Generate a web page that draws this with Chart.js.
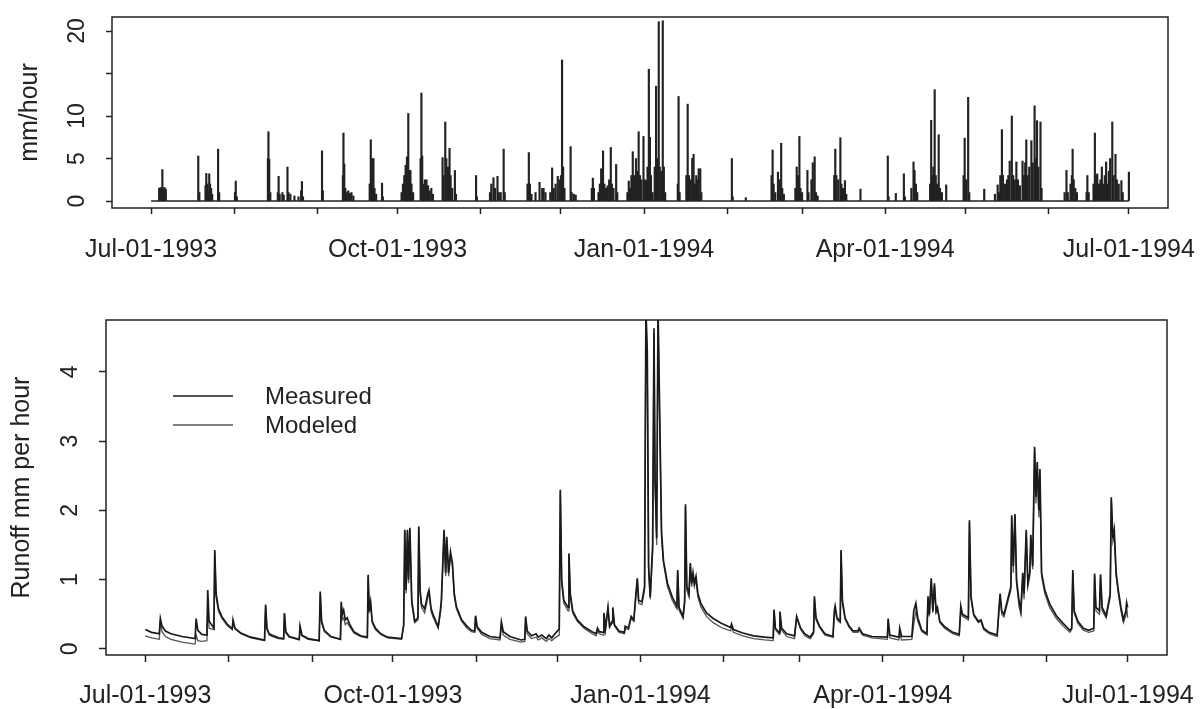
<!DOCTYPE html>
<html>
<head>
<meta charset="utf-8">
<script src="https://cdn.jsdelivr.net/npm/chart.js@4.4.0/dist/chart.umd.min.js"></script>
<style>
  body { margin: 0; background: #fff; }
  canvas { position: absolute; left: 0; }
  #rain { top: 0; }
  #flow { top: 270px; }
</style>
</head>
<body>
<canvas id="rain" width="1200" height="270"></canvas>
<canvas id="flow" width="1200" height="439"></canvas>
<script>
// days counted from Jul-01-1993
const monthDays = [0, 31, 62, 92, 123, 153, 184, 215, 243, 274, 304, 335, 365]
const labelDays = [0, 92, 184, 274, 365]
const dateLabels = ['Jul-01-1993', 'Oct-01-1993', 'Jan-01-1994', 'Apr-01-1994', 'Jul-01-1994']
const recordStart = 0
const recordEnd = 365

const rainTicks = [0, 5, 10, 15, 20]
const rainTickLabels = ['0', '5', '10', '', '20']
const flowTicks = [0, 1, 2, 3, 4]

// rainfall spikes, mm/hour
const rainDay = [
  3.0, 3.5, 4.0, 4.2, 4.6, 5.0, 5.5, 17.6, 18.0, 20.3, 20.6, 21.0, 21.3, 21.7, 22.0, 22.4, 22.8, 25.0, 25.4,
  31.3, 31.6, 32.0, 43.6, 43.8, 44.1, 44.5, 47.3, 47.6, 48.0, 49.0, 49.5, 50.9, 51.3, 52.0, 53.5, 55.0, 56.0, 56.3, 56.7,
  63.8, 64.1, 71.6, 71.8, 72.1, 72.5, 73.0, 73.6, 74.2, 74.8, 75.5, 81.6, 82.0, 82.5, 83.0, 83.4, 84.0, 86.2, 86.5,
  93.5, 94.0, 94.5, 95.0, 95.5, 96.0, 96.4, 96.8, 97.2, 97.8, 100.6, 100.9, 101.2, 101.6, 102.2, 102.8, 103.4, 104.0, 104.6, 105.2,
  108.8, 109.2, 109.8, 110.2, 110.8, 111.4, 111.8, 112.4, 113.4, 113.8, 121.3, 121.6, 126.5, 127.0, 127.8, 128.4, 129.3, 129.8, 130.5, 131.6, 132.0,
  140.5, 141.0, 141.4, 142.0, 143.5, 145.0, 146.0, 146.5, 147.2, 149.0, 149.7, 150.3, 151.0, 151.8, 152.5, 153.0, 153.4, 153.8, 154.3, 156.6, 157.0, 157.8, 158.5,
  164.5, 164.9, 165.3, 167.0, 167.5, 168.0, 168.7, 169.2, 169.8, 170.4, 171.0, 171.6, 172.0, 172.6, 173.6, 174.0,
  177.8, 178.3, 178.8, 179.3, 179.8, 180.3, 181.0, 181.5, 182.0, 182.5, 183.0, 183.8, 184.3, 184.8, 185.3, 185.8, 186.2, 186.6, 187.2,
  188.0, 188.5, 188.9, 189.5, 189.9, 190.5, 191.0, 191.4, 191.9, 196.6, 196.9, 197.3,
  199.8, 200.3, 200.8, 201.4, 202.0, 202.5, 203.0, 203.5, 204.0, 204.4, 205.0, 205.4, 216.8, 217.1, 222.0,
  231.6, 232.0, 232.4, 233.0, 234.0, 234.7, 235.2, 235.6, 236.2, 240.5, 241.0, 241.5, 242.0, 242.4, 243.0, 245.0, 245.4, 246.5, 247.0, 247.7, 248.2, 248.8,
  255.0, 255.4, 255.8, 256.5, 257.3, 257.7, 258.3, 259.0, 259.5, 264.8, 275.0, 275.3, 278.0, 281.0, 281.4, 283.8, 284.6, 285.0, 285.5, 286.0,
  290.8, 291.2, 291.7, 292.0, 292.5, 292.9, 293.4, 294.0, 294.5, 295.2, 296.8, 303.3, 303.7, 304.2, 305.0, 305.4, 311.0, 315.0, 316.0, 316.5,
  317.0, 317.6, 318.0, 318.8, 319.5, 320.0, 320.5, 321.3, 321.8, 322.4, 323.0, 323.6, 324.3, 325.3, 325.8, 326.3, 326.7, 327.2, 327.8, 328.6, 329.1, 329.8, 330.2, 330.7, 331.2, 332.0, 332.4,
  341.0, 341.7, 342.2, 343.2, 343.7, 344.0, 344.4, 345.0, 345.6, 349.2, 349.5, 350.0,
  351.8, 352.3, 352.7, 353.2, 353.8, 354.4, 354.9, 355.4, 356.0, 356.5, 357.0, 357.5, 358.0, 358.8, 359.3, 360.0, 360.5, 361.2, 362.2, 362.7, 365.0
]
const rainMm = [
  1.5, 1.6, 1.5, 3.7, 1.5, 1.6, 1.4, 5.3, 1.0, 1.8, 3.25, 2.0, 1.2, 3.2, 2.0, 1.5, 0.8, 6.1, 1.0,
  1.0, 2.35, 0.5, 5.0, 8.15, 4.9, 1.0, 1.0, 2.9, 0.8, 1.0, 0.7, 4.0, 1.0, 0.8, 0.6, 0.5, 1.2, 2.3, 0.5,
  5.9, 1.2, 3.0, 8.0, 4.35, 1.5, 1.0, 1.2, 0.9, 1.0, 0.6, 2.0, 7.2, 5.0, 5.0, 1.5, 0.8, 2.1, 0.5,
  1.0, 2.0, 3.0, 4.2, 5.2, 10.3, 3.6, 3.6, 2.0, 1.0, 5.0, 12.7, 5.3, 2.0, 2.5, 2.5, 1.8, 1.2, 1.5, 0.8,
  5.1, 3.0, 9.3, 5.0, 4.0, 6.2, 3.0, 1.5, 3.6, 0.8, 3.0, 0.5, 1.0, 2.0, 2.75, 1.5, 2.9, 1.0, 1.0, 6.1, 1.0,
  2.0, 5.7, 2.0, 0.8, 1.0, 2.2, 1.5, 1.5, 1.0, 1.0, 3.9, 1.5, 2.0, 2.9, 2.5, 3.0, 16.6, 4.0, 1.5, 6.4, 1.0, 0.8, 0.7,
  1.5, 2.7, 1.5, 1.0, 2.0, 3.8, 5.9, 2.0, 1.5, 1.8, 2.5, 6.3, 2.0, 1.5, 4.3, 1.0,
  1.0, 2.35, 1.5, 3.0, 5.8, 3.0, 5.0, 3.5, 8.15, 3.0, 2.5, 7.6, 2.5, 2.4, 4.0, 15.5, 7.5, 3.0, 1.0,
  4.0, 13.5, 5.0, 21.1, 4.0, 3.5, 21.2, 4.0, 1.0, 2.0, 12.3, 1.0,
  3.0, 11.4, 3.0, 2.5, 5.0, 5.5, 2.0, 3.0, 2.5, 3.8, 3.8, 1.0, 5.0, 0.5, 0.4,
  3.0, 6.0, 2.0, 1.0, 3.4, 2.5, 6.8, 1.5, 0.8, 1.5, 4.0, 3.0, 7.6, 1.5, 1.0, 3.6, 1.0, 2.5, 4.5, 5.2, 1.0, 0.6,
  3.0, 6.1, 3.0, 2.5, 7.45, 2.0, 1.5, 2.4, 0.8, 1.4, 5.3, 0.5, 0.9, 3.2, 0.5, 1.5, 4.6, 3.6, 2.0, 1.0,
  2.0, 9.5, 3.0, 4.0, 13.1, 3.0, 2.0, 7.8, 1.5, 1.0, 1.9, 3.0, 7.4, 2.5, 12.2, 1.0, 1.4, 0.8, 1.9, 1.0,
  3.0, 8.4, 3.0, 2.0, 2.5, 3.0, 4.7, 10.0, 3.0, 2.5, 4.6, 2.5, 1.8, 4.7, 3.0, 4.5, 7.2, 3.0, 4.0, 7.1, 4.5, 11.2, 5.0, 9.45, 4.0, 9.3, 1.5,
  1.0, 3.6, 1.0, 2.0, 3.0, 6.1, 2.5, 1.5, 1.0, 1.0, 3.0, 1.0,
  2.0, 8.0, 3.0, 3.2, 2.0, 2.5, 4.0, 2.0, 3.0, 4.6, 2.0, 3.5, 5.0, 9.3, 3.0, 5.5, 2.5, 2.0, 2.4, 1.0, 3.4
]

// runoff, mm per hour
const flowDay = [
  0, 2.3, 5.2, 5.6, 6.2, 7.5, 9.5, 13.6, 18.5, 18.9,
  19.5, 21.0, 22.9, 23.2, 23.7, 25.5, 25.8, 26.3, 27.2, 28.5,
  30.4, 32.3, 32.6, 33.3, 35.5, 39.2, 44.3, 44.7, 45.2, 46.0,
  47.0, 49.5, 51.4, 51.7, 52.2, 53.5, 57.2, 57.5, 58.2, 60.5,
  64.6, 65.0, 65.5, 66.5, 69.0, 72.5, 72.8, 73.2, 73.7, 74.3,
  75.0, 76.0, 77.5, 80.0, 82.5, 82.8, 83.2, 83.7, 84.3, 85.5,
  87.5, 90.0, 95.2, 96.0, 96.4, 96.9, 97.4, 97.8, 98.3, 99.0,
  100.1, 101.3, 101.6, 102.1, 102.6, 103.8, 105.0, 105.4, 106.2, 106.9,
  108.8, 109.6, 110.0, 111.0, 111.6, 112.0, 112.7, 113.4, 114.1, 114.8,
  115.6, 117.5, 119.5, 121.2, 122.4, 122.7, 123.3, 125.0, 128.0, 131.8,
  132.3, 133.0, 135.5, 139.6, 141.0, 141.3, 141.9, 143.5, 145.2, 146.0,
  147.3, 149.0, 150.0, 151.0, 152.2, 153.8, 154.2, 154.7, 155.5, 157.1,
  157.4, 157.9, 158.8, 160.5, 163.0, 166.0, 167.5, 168.0, 168.7, 170.1,
  170.4, 171.0, 171.9, 172.5, 173.4, 173.7, 174.3, 176.0, 178.0, 178.3,
  179.5, 180.5, 181.5, 182.3, 182.8, 183.3, 184.5, 185.5, 186.0, 186.5,
  187.0, 187.6, 188.5, 189.0, 189.4, 190.0, 190.5, 191.2, 191.8, 192.5,
  194.0, 195.8, 197.5, 197.8, 198.3, 199.8, 200.4, 200.7, 201.2, 202.0,
  202.5, 203.0, 203.5, 204.0, 204.6, 205.3, 206.5, 208.5, 211.0, 214.0,
  217.5, 217.8, 218.5, 222.0, 226.0, 230.0, 233.3, 233.6, 234.1, 235.5,
  235.8, 236.4, 238.3, 241.2, 242.0, 242.6, 243.5, 245.0, 247.0, 248.3,
  248.6, 249.2, 250.5, 252.5, 255.5, 256.0, 256.3, 257.0, 258.2, 258.5,
  259.0, 260.0, 261.5, 263.0, 264.8, 265.2, 266.5, 270.0, 275.7, 276.0,
  276.6, 280.0, 280.3, 281.0, 284.8, 285.5, 286.3, 287.0, 288.5, 290.4,
  290.8, 291.3, 292.0, 292.6, 293.2, 293.8, 294.3, 295.2, 297.0, 300.0,
  302.4, 303.0, 303.6, 305.8, 306.2, 306.8, 307.8, 309.5, 310.5, 311.5,
  313.5, 316.5, 317.2, 317.6, 318.2, 319.0, 321.6, 321.9, 322.5, 323.1,
  323.7, 324.6, 325.3, 326.0, 326.5, 327.3, 327.9, 328.6, 329.0, 329.7,
  330.4, 330.9, 331.4, 332.0, 332.4, 333.0, 334.2, 336.0, 338.5, 341.0,
  343.5, 344.2, 344.6, 345.1, 346.5, 348.5, 350.5, 352.4, 352.7, 353.2,
  354.5, 354.9, 355.5, 357.0, 358.5, 358.9, 359.5, 360.0, 360.7, 361.5,
  362.5, 363.4, 364.3, 364.6, 365.0
]
const measured = [
  0.28, 0.24, 0.22, 0.44, 0.33, 0.26, 0.22, 0.18, 0.15, 0.44,
  0.27, 0.21, 0.20, 0.85, 0.40, 0.30, 1.43, 0.80, 0.58, 0.46,
  0.36, 0.29, 0.42, 0.30, 0.23, 0.17, 0.13, 0.64, 0.30, 0.22,
  0.20, 0.16, 0.15, 0.52, 0.25, 0.18, 0.14, 0.33, 0.20, 0.15,
  0.12, 0.83, 0.40, 0.27, 0.18, 0.14, 0.68, 0.50, 0.56, 0.42,
  0.45, 0.35, 0.25, 0.19, 0.17, 1.07, 0.55, 0.68, 0.40, 0.30,
  0.22, 0.17, 0.15, 0.35, 1.72, 0.85, 1.72, 1.00, 1.75, 0.70,
  0.40, 0.45, 1.77, 0.85, 0.65, 0.58, 0.80, 0.85, 0.58, 0.50,
  0.32, 0.55, 0.70, 1.72, 1.10, 1.62, 1.10, 1.40, 1.24, 0.80,
  0.61, 0.42, 0.33, 0.27, 0.26, 0.48, 0.32, 0.24, 0.18, 0.16,
  0.39, 0.25, 0.18, 0.13, 0.14, 0.47, 0.26, 0.19, 0.22, 0.17,
  0.20, 0.15, 0.20, 0.16, 0.22, 0.29, 2.30, 1.00, 0.70, 0.60,
  1.38, 0.80, 0.55, 0.42, 0.32, 0.25, 0.22, 0.30, 0.25, 0.24,
  0.52, 0.30, 0.60, 0.33, 0.40, 0.60, 0.35, 0.26, 0.24, 0.33,
  0.30, 0.47, 0.42, 0.80, 1.02, 0.70, 0.68, 0.90, 4.90, 4.30,
  1.20, 0.75, 1.50, 4.63, 2.45, 1.60, 4.90, 3.20, 1.70, 1.28,
  0.95, 0.75, 0.62, 1.14, 0.60, 0.47, 0.70, 2.09, 0.90, 0.80,
  1.24, 0.95, 1.10, 0.95, 1.05, 0.80, 0.65, 0.52, 0.44, 0.37,
  0.31, 0.36, 0.28, 0.23, 0.19, 0.17, 0.16, 0.57, 0.30, 0.24,
  0.54, 0.30, 0.22, 0.19, 0.47, 0.40, 0.30, 0.22, 0.17, 0.25,
  0.76, 0.45, 0.33, 0.22, 0.18, 0.55, 0.62, 0.45, 0.40, 1.43,
  0.70, 0.45, 0.33, 0.26, 0.26, 0.30, 0.22, 0.18, 0.17, 0.44,
  0.20, 0.17, 0.30, 0.18, 0.18, 0.55, 0.66, 0.45, 0.27, 0.22,
  0.76, 0.50, 1.02, 0.55, 0.95, 0.55, 0.60, 0.40, 0.32, 0.24,
  0.21, 0.62, 0.50, 0.45, 1.86, 0.75, 0.50, 0.40, 0.42, 0.30,
  0.24, 0.20, 0.60, 0.80, 0.55, 0.50, 0.90, 1.93, 1.20, 1.95,
  1.00, 0.70, 0.56, 1.10, 0.80, 1.72, 0.95, 1.10, 1.65, 1.20,
  2.92, 2.20, 2.70, 2.00, 2.60, 1.10, 0.85, 0.65, 0.48, 0.37,
  0.27, 0.30, 1.14, 0.55, 0.40, 0.30, 0.27, 0.30, 1.09, 0.60,
  0.55, 1.08, 0.60, 0.48, 0.80, 2.19, 1.60, 1.72, 1.10, 0.85,
  0.60, 0.42, 0.55, 0.67, 0.60
]
const modeled = [
  0.19, 0.16, 0.14, 0.40, 0.25, 0.18, 0.14, 0.10, 0.07, 0.20,
  0.12, 0.11, 0.12, 0.60, 0.30, 0.28, 1.40, 0.75, 0.54, 0.44,
  0.34, 0.28, 0.38, 0.29, 0.22, 0.16, 0.12, 0.62, 0.28, 0.20,
  0.18, 0.15, 0.14, 0.50, 0.23, 0.17, 0.13, 0.31, 0.19, 0.14,
  0.12, 0.80, 0.38, 0.25, 0.17, 0.14, 0.62, 0.42, 0.45, 0.35,
  0.38, 0.32, 0.23, 0.18, 0.16, 1.05, 0.52, 0.66, 0.38, 0.28,
  0.21, 0.16, 0.14, 0.33, 1.70, 0.80, 1.70, 0.95, 1.72, 0.65,
  0.38, 0.42, 1.75, 0.80, 0.60, 0.52, 0.75, 0.80, 0.54, 0.46,
  0.30, 0.50, 0.65, 1.68, 1.05, 1.58, 1.05, 1.35, 1.20, 0.76,
  0.58, 0.40, 0.30, 0.25, 0.24, 0.47, 0.30, 0.21, 0.15, 0.13,
  0.36, 0.20, 0.14, 0.10, 0.11, 0.45, 0.22, 0.15, 0.17, 0.13,
  0.16, 0.11, 0.15, 0.12, 0.16, 0.20, 2.28, 0.95, 0.66, 0.55,
  1.35, 0.76, 0.52, 0.40, 0.30, 0.22, 0.19, 0.26, 0.22, 0.20,
  0.50, 0.28, 0.58, 0.31, 0.37, 0.58, 0.33, 0.24, 0.22, 0.30,
  0.28, 0.44, 0.40, 0.78, 1.00, 0.66, 0.64, 0.85, 4.90, 4.10,
  1.10, 0.72, 1.40, 4.55, 2.40, 1.50, 4.90, 3.00, 1.60, 1.25,
  0.90, 0.70, 0.58, 1.12, 0.56, 0.44, 0.65, 2.05, 0.85, 0.75,
  1.20, 0.90, 1.05, 0.90, 1.00, 0.75, 0.60, 0.47, 0.38, 0.31,
  0.26, 0.33, 0.24, 0.19, 0.15, 0.13, 0.12, 0.55, 0.28, 0.21,
  0.50, 0.27, 0.18, 0.15, 0.45, 0.38, 0.28, 0.19, 0.15, 0.22,
  0.72, 0.42, 0.31, 0.20, 0.17, 0.50, 0.58, 0.42, 0.38, 1.40,
  0.66, 0.43, 0.31, 0.24, 0.24, 0.28, 0.20, 0.16, 0.14, 0.40,
  0.16, 0.13, 0.22, 0.13, 0.14, 0.35, 0.55, 0.40, 0.25, 0.20,
  0.70, 0.47, 0.98, 0.52, 0.90, 0.52, 0.57, 0.38, 0.30, 0.22,
  0.19, 0.58, 0.47, 0.42, 1.82, 0.72, 0.48, 0.38, 0.40, 0.28,
  0.22, 0.18, 0.55, 0.75, 0.50, 0.46, 0.85, 1.90, 1.10, 1.92,
  0.95, 0.62, 0.50, 1.00, 0.72, 1.68, 0.90, 1.05, 1.60, 1.15,
  2.88, 2.10, 2.60, 1.90, 2.50, 1.05, 0.80, 0.60, 0.44, 0.33,
  0.24, 0.28, 1.10, 0.52, 0.37, 0.27, 0.24, 0.26, 1.05, 0.55,
  0.50, 1.03, 0.55, 0.45, 0.75, 2.15, 1.55, 1.65, 1.05, 0.80,
  0.55, 0.38, 0.48, 0.62, 0.45
]

const ink = '#222'
Chart.defaults.font.family = "'Liberation Sans', Arial, sans-serif"
Chart.defaults.font.size = 25
Chart.defaults.color = ink
Chart.defaults.animation = false
Chart.defaults.plugins.legend.display = false
Chart.defaults.plugins.tooltip.enabled = false

// R style frame round the plot region
const boxPlugin = {
    id: 'box',
    afterDraw(chart) {
        const {ctx, chartArea: a} = chart
        ctx.save()
        ctx.strokeStyle = ink
        ctx.lineWidth = 1.5
        ctx.strokeRect(a.left, a.top, a.right - a.left, a.bottom - a.top)
        ctx.restore()
    }
}

// legend sitting inside the plot, lines then labels
const legendPlugin = {
    id: 'insideLegend',
    afterDatasetsDraw(chart) {
        const {ctx, chartArea: a} = chart
        ctx.save()
        ctx.font = "24px 'Liberation Sans', Arial, sans-serif"
        ctx.textBaseline = 'middle'
        chart.data.datasets.forEach((ds, i) => {
            const y = a.top + 76 + i * 29
            ctx.strokeStyle = ds.borderColor
            ctx.lineWidth = ds.borderWidth
            ctx.beginPath()
            ctx.moveTo(a.left + 67, y)
            ctx.lineTo(a.left + 127, y)
            ctx.stroke()
            ctx.fillStyle = ink
            ctx.fillText(ds.label, a.left + 159, y + 1)
        })
        ctx.restore()
    }
}

// the plot region is fixed by layout padding alone, not by label overhang
const noOverhang = s => {
    s.paddingTop = 0
    s.paddingBottom = 0
    s.paddingLeft = 0
    s.paddingRight = 0
}

const xAxis = (height, tickLen, pad) => ({
    type: 'linear',
    min: recordStart - 14.6,
    max: recordEnd + 14.6,
    offset: false,
    afterBuildTicks: s => { s.ticks = monthDays.map(v => ({value: v})) },
    afterFit: s => { s.height = height; noOverhang(s) },
    grid: {offset: false, drawOnChartArea: false, tickLength: tickLen, tickColor: ink, tickWidth: 1.5},
    border: {display: false},
    ticks: {
        autoSkip: false, minRotation: 0, maxRotation: 0, padding: pad,
        callback: v => {
            const i = labelDays.indexOf(v)
            return i < 0 ? '' : dateLabels[i]
        }
    }
})

new Chart(document.querySelector('#rain'), {
    type: 'line',
    data: {
        datasets: [
            {
                type: 'bar',
                data: rainDay.map((d, i) => ({x: d, y: rainMm[i]})),
                backgroundColor: ink,
                barThickness: 1.5
            },
            {
                data: [{x: recordStart, y: 0}, {x: recordEnd, y: 0}],
                borderColor: ink,
                borderWidth: 1.5,
                pointRadius: 0
            }
        ]
    },
    options: {
        responsive: false,
        layout: {padding: {top: 17, right: 32, left: 0, bottom: 0}},
        scales: {
            x: xAxis(62, 6, 21),
            y: {
                min: -0.82, max: 21.65,
                afterBuildTicks: s => { s.ticks = rainTicks.map(v => ({value: v})) },
                afterFit: s => { s.width = 112; noOverhang(s) },
                grid: {drawOnChartArea: false, tickLength: 6, tickColor: ink, tickWidth: 1.5},
                border: {display: false},
                ticks: {
                    font: {size: 23}, minRotation: 90, maxRotation: 90, crossAlign: 'center', padding: 16,
                    callback: v => rainTickLabels[rainTicks.indexOf(v)]
                },
                title: {display: true, text: 'mm/hour', padding: {top: 15, bottom: 0}}
            }
        }
    },
    plugins: [boxPlugin]
})

new Chart(document.querySelector('#flow'), {
    type: 'line',
    data: {
        datasets: [
            {
                label: 'Measured',
                data: flowDay.map((d, i) => ({x: d, y: measured[i]})),
                borderColor: '#1a1a1a',
                borderWidth: 1.7,
                pointRadius: 0,
                order: 0
            },
            {
                label: 'Modeled',
                data: flowDay.map((d, i) => ({x: d, y: modeled[i]})),
                borderColor: '#555',
                borderWidth: 1.3,
                pointRadius: 0,
                order: 1
            }
        ]
    },
    options: {
        responsive: false,
        layout: {padding: {top: 50, right: 33, left: 0, bottom: 0}},
        scales: {
            x: xAxis(54, 7, 19),
            y: {
                min: -0.087, max: 4.75,
                afterBuildTicks: s => { s.ticks = flowTicks.map(v => ({value: v})) },
                afterFit: s => { s.width = 106; noOverhang(s) },
                grid: {drawOnChartArea: false, tickLength: 7, tickColor: ink, tickWidth: 1.5},
                border: {display: false},
                ticks: {
                    font: {size: 23}, minRotation: 90, maxRotation: 90, crossAlign: 'center', padding: 22,
                    callback: v => String(v)
                },
                title: {display: true, text: 'Runoff mm per hour', padding: {top: 7, bottom: 0}}
            }
        }
    },
    plugins: [boxPlugin, legendPlugin]
})
</script>
</body>
</html>
